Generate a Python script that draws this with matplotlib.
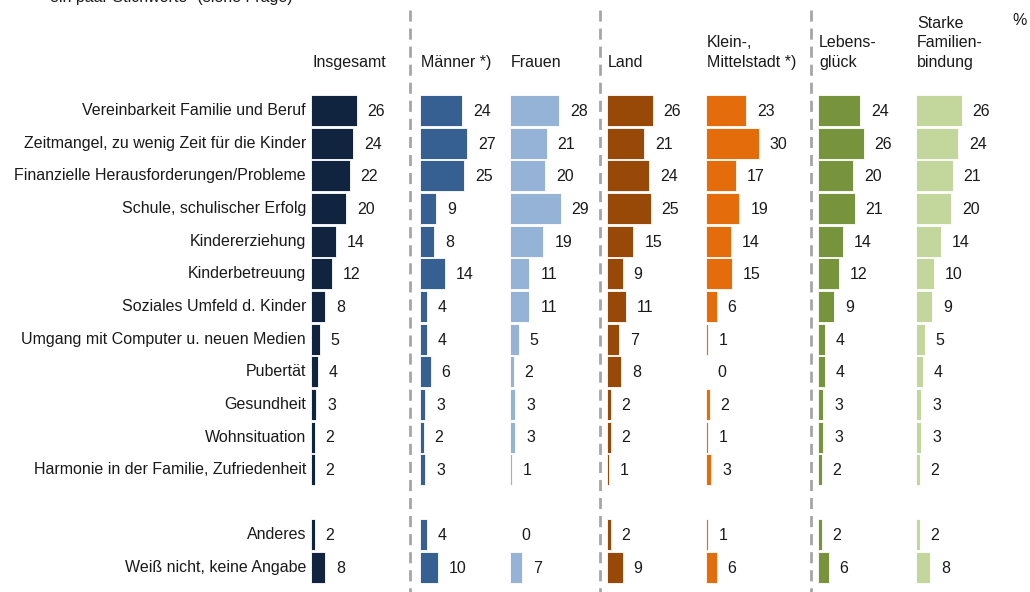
import matplotlib.pyplot as plt

plt.rcParams['font.family'] = ['Liberation Sans', 'DejaVu Sans']

# Survey answers (percent), one list per group
categories = [
    "Vereinbarkeit Familie und Beruf",
    "Zeitmangel, zu wenig Zeit für die Kinder",
    "Finanzielle Herausforderungen/Probleme",
    "Schule, schulischer Erfolg",
    "Kindererziehung",
    "Kinderbetreuung",
    "Soziales Umfeld d. Kinder",
    "Umgang mit Computer u. neuen Medien",
    "Pubertät",
    "Gesundheit",
    "Wohnsituation",
    "Harmonie in der Familie, Zufriedenheit",
    "Anderes",
    "Weiß nicht, keine Angabe",
]
row_index = [0, 1, 2, 3, 4, 5, 6, 7, 8, 9, 10, 11, 13, 14]

insgesamt = [26, 24, 22, 20, 14, 12, 8, 5, 4, 3, 2, 2, 2, 8]
maenner = [24, 27, 25, 9, 8, 14, 4, 4, 6, 3, 2, 3, 4, 10]
frauen = [28, 21, 20, 29, 19, 11, 11, 5, 2, 3, 3, 1, 0, 7]
land = [26, 21, 24, 25, 15, 9, 11, 7, 8, 2, 2, 1, 2, 9]
kleinstadt = [23, 30, 17, 19, 14, 15, 6, 1, 0, 2, 1, 3, 1, 6]
lebensglueck = [24, 26, 20, 21, 14, 12, 9, 4, 4, 3, 3, 2, 2, 6]
familienbindung = [26, 24, 21, 20, 14, 10, 9, 5, 4, 3, 3, 2, 2, 8]

headers = ["Insgesamt", "Männer *)", "Frauen", "Land",
           "Klein-,\nMittelstadt *)", "Lebens-\nglück", "Starke\nFamilien-\nbindung"]
series = [insgesamt, maenner, frauen, land, kleinstadt, lebensglueck, familienbindung]
colors = ["#11243f", "#366092", "#95b3d7", "#984807", "#e46c0a", "#77933c", "#c3d69b"]
origins = [311, 420, 510, 607, 706, 818, 916]

# layout in pixels
W, H = 1030, 592
SCALE = 1.75       # px per percent
ROW0 = 110.5
STEP = 32.65
BAR_H = 31
TXT = "#1a1a1a"
FS = 11.5

fig = plt.figure(figsize=(W / 100, H / 100), dpi=100)
ax = fig.add_axes([0, 0, 1, 1])
ax.set_xlim(0, W)
ax.set_ylim(H, 0)
ax.axis('off')

ys = [ROW0 + i * STEP for i in row_index]

for cat, y in zip(categories, ys):
    ax.text(306, y, cat, ha='right', va='center', fontsize=FS, color=TXT)

for vals, col, x0, head in zip(series, colors, origins, headers):
    widths = [v * SCALE for v in vals]
    ax.barh(ys, widths, left=x0, height=BAR_H, color=col,
            edgecolor='white', linewidth=0.6)
    for v, w, y in zip(vals, widths, ys):
        ax.text(x0 + w + 11, y + 1, str(v), ha='left', va='center',
                fontsize=FS, color=TXT)
    ax.text(x0 + 1, 67, head, ha='left', va='baseline', fontsize=FS,
            color=TXT, linespacing=1.38)

ax.text(1012, 25, "%", ha='left', va='baseline', fontsize=FS, color=TXT)

# group separators
for x in [410, 600, 811]:
    ax.plot([x, x], [10, H], color='#a6a6a6', lw=2, ls=(0, (4, 2.5)))

# question text running off the top edge
ax.text(50, 2, "ein paar Stichworte\" (siehe Frage)", ha='left', va='baseline',
        fontsize=FS, color=TXT)

fig.savefig("out.png", dpi=100)
